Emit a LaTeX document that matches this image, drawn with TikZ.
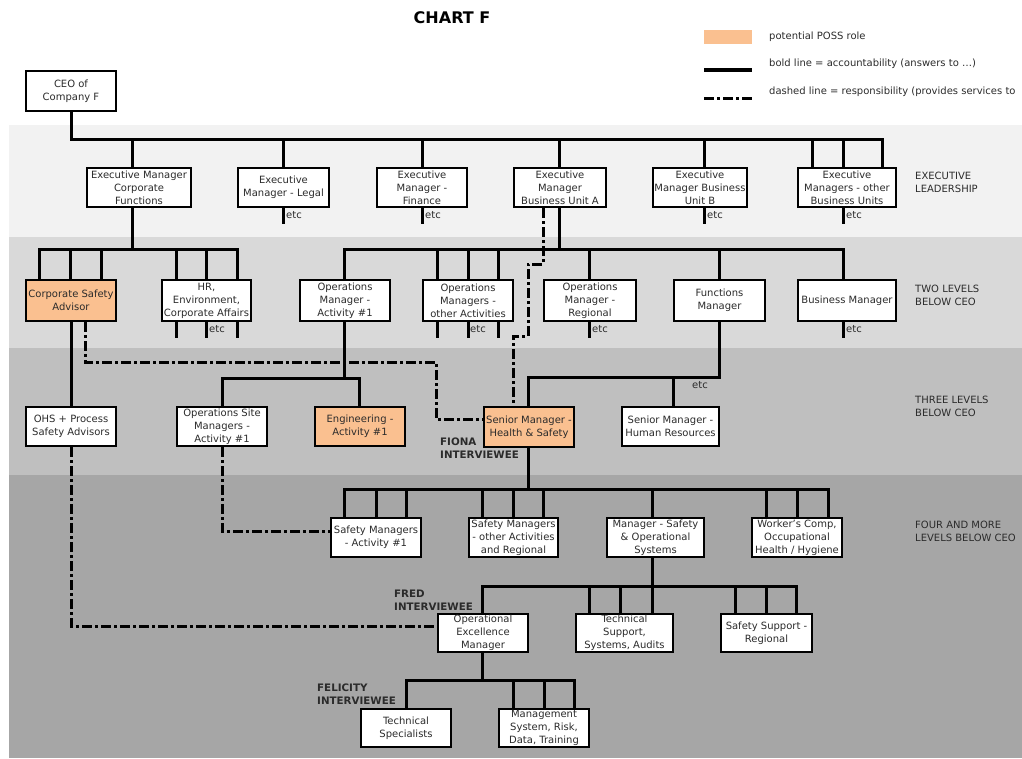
\documentclass[tikz,border=0pt]{standalone}
\usepackage{fontspec}
\setmainfont{DejaVu Sans}
\usetikzlibrary{calc}
\definecolor{possc}{HTML}{FAC090}
\definecolor{txt}{HTML}{2B2B2B}
\definecolor{bandA}{HTML}{F2F2F2}
\definecolor{bandB}{HTML}{D9D9D9}
\definecolor{bandC}{HTML}{BFBFBF}
\definecolor{bandD}{HTML}{A6A6A6}
\newcommand\bxfont{\fontsize{10}{13}\selectfont}
\newcommand\ttlfont{\fontsize{16}{19}\selectfont\bfseries}
\newcommand\ivfont{\fontsize{10.3}{13}\selectfont\bfseries}
\newcommand\drop[3]{\draw[acc] ($(#1.north)+(#2,0)$) -- ($(#1.north |- #3)+(#2,0)$);}
\newcommand\upto[3]{\draw[acc] ($(#1.south)+(#2,0)$) -- ($(#1.south |- #3)+(#2,0)$);}
\newcommand\stub[2]{\draw[acc] ($(#1.south)+(#2,0)$) -- ++(0,14);}
\begin{document}
\begin{tikzpicture}[x=1pt,y=-1pt,
  box/.style={draw=black, line width=2.6pt, fill=white, align=center, inner sep=0pt, font=\bxfont, text=txt},
  poss/.style={box, fill=possc},
  acc/.style={line width=3pt, line cap=rect, draw=black},
  resp/.style={line width=3pt, draw=black, dash pattern=on 10pt off 3pt on 3pt off 3pt},
  lbl/.style={anchor=west, align=left, inner sep=0pt, font=\bxfont, text=txt},
  etcs/.style={anchor=west, inner sep=0pt, font=\bxfont, text=txt},
  iv/.style={anchor=west, align=left, inner sep=0pt, font=\ivfont, text=txt}]
\useasboundingbox (0,0) rectangle (1022,758);
% bands
\fill[bandA] (9,125) rectangle (1022,237);
\fill[bandB] (9,237) rectangle (1022,348);
\fill[bandC] (9,348) rectangle (1022,475);
\fill[bandD] (9,475) rectangle (1022,758);
% title
\node[font=\ttlfont, text=black, inner sep=0pt] (title) at (452,18) {CHART F};
% legend
\node[fill=possc, minimum width=48, minimum height=14, inner sep=0pt] (legposs) at (728,37) {};
\coordinate (lb1) at (704,70); \coordinate (lb2) at (752,70);
\draw[line width=4.5pt] (lb1) -- (lb2);
\coordinate (ld1) at (704,98); \coordinate (ld2) at (752,98);
\draw[resp] (ld1) -- (ld2);
\node[etcs] (legt1) at (769,37) {potential POSS role};
\node[etcs] (legt2) at (769,63.5) {bold line = accountability (answers to \dots)};
\node[etcs] (legt3) at (769,92) {dashed line = responsibility (provides services to};
% band labels
\node[lbl] (lab1) at (915,182) {EXECUTIVE\\LEADERSHIP};
\node[lbl] (lab2) at (915,295) {TWO LEVELS\\BELOW CEO};
\node[lbl] (lab3) at (915,406) {THREE LEVELS\\BELOW CEO};
\node[lbl] (lab4) at (915,531) {FOUR AND MORE\\LEVELS BELOW CEO};
% boxes
\node[box, minimum width=90, minimum height=40] (ceo) at (71,91) {CEO of\\Company F};
\node[box, minimum width=104, minimum height=39] (emcf) at (139,187.5) {Executive Manager\\Corporate\\Functions};
\node[box, minimum width=91, minimum height=39] (eml) at (283.5,187.5) {Executive\\Manager - Legal};
\node[box, minimum width=90, minimum height=39] (emf) at (422,187.5) {Executive\\Manager -\\Finance};
\node[box, minimum width=92, minimum height=39] (emba) at (560,187.5) {Executive\\Manager\\Business Unit A};
\node[box, minimum width=94, minimum height=39] (embb) at (700,187.5) {Executive\\Manager Business\\Unit B};
\node[box, minimum width=98, minimum height=39] (emo) at (847,187.5) {Executive\\Managers - other\\Business Units};
\node[poss, minimum width=90, minimum height=41] (csa) at (71,300.5) {Corporate Safety\\Advisor};
\node[box, minimum width=89, minimum height=41] (hr) at (206.5,300.5) {HR,\\Environment,\\Corporate Affairs};
\node[box, minimum width=90, minimum height=41] (om1) at (345,300.5) {Operations\\Manager -\\Activity \#1};
\node[box, minimum width=90, minimum height=41] (omo) at (468,300.5) {Operations\\Managers -\\other Activities};
\node[box, minimum width=92, minimum height=41] (omr) at (590,300.5) {Operations\\Manager -\\Regional};
\node[box, minimum width=91, minimum height=41] (fm) at (719.5,300.5) {Functions\\Manager};
\node[box, minimum width=98, minimum height=41] (bm) at (847,300.5) {Business Manager};
\node[box, minimum width=90, minimum height=39] (ohs) at (71,426.5) {OHS + Process\\Safety Advisors};
\node[box, minimum width=90, minimum height=39] (osm) at (222,426.5) {Operations Site\\Managers -\\Activity \#1};
\node[poss, minimum width=90, minimum height=39] (eng) at (360,426.5) {Engineering -\\Activity \#1};
\node[poss, minimum width=90, minimum height=40] (smhs) at (529,427) {Senior Manager -\\Health \& Safety};
\node[box, minimum width=97, minimum height=39] (smhr) at (670.5,426.5) {Senior Manager -\\Human Resources};
\node[box, minimum width=90, minimum height=39] (sma) at (376,537.5) {Safety Managers\\- Activity \#1};
\node[box, minimum width=89, minimum height=39] (smo) at (513.5,537.5) {Safety Managers\\- other Activities\\and Regional};
\node[box, minimum width=97, minimum height=39] (msos) at (655.5,537.5) {Manager - Safety\\\& Operational\\Systems};
\node[box, minimum width=90, minimum height=39] (wc) at (797,537.5) {Worker's Comp,\\Occupational\\Health / Hygiene};
\node[box, minimum width=90, minimum height=38] (oem) at (483,633) {Operational\\Excellence\\Manager};
\node[box, minimum width=97, minimum height=38] (tss) at (624.5,633) {Technical\\Support,\\Systems, Audits};
\node[box, minimum width=91, minimum height=38] (ssr) at (766.5,633) {Safety Support -\\Regional};
\node[box, minimum width=90, minimum height=38] (ts) at (406,728) {Technical\\Specialists};
\node[box, minimum width=90, minimum height=38] (msr) at (544,728) {Management\\System, Risk,\\Data, Training};
% interviewee labels
\node[iv] (fiona) at (440,448.5) {FIONA\\INTERVIEWEE};
\node[iv] (fred) at (394,600.5) {FRED\\INTERVIEWEE};
\node[iv] (felicity) at (317,694.5) {FELICITY\\INTERVIEWEE};
% bus coordinates
\coordinate (b1r) at (882,139);
\coordinate (b2al) at (39,249); \coordinate (b2ar) at (237,249);
\coordinate (b2bl) at (344,249); \coordinate (b2br) at (843,249);
\coordinate (b3al) at (222,378); \coordinate (b3ar) at (359,378);
\coordinate (b3bl) at (528,377); \coordinate (b3br) at (719,377);
\coordinate (b4l) at (344,489); \coordinate (b4r) at (828,489);
\coordinate (b5l) at (482,586); \coordinate (b5r) at (796,586);
\coordinate (b6l) at (406,680); \coordinate (b6r) at (574,680);
% dashed responsibility lines
\draw[resp] ($(emba.south)+(-17,0)$) -- ++(0,56) -- ++(-15,0) -- ++(0,72) -- ++(-15,0) -- ($(smhs.north)+(-16,0)$);
\draw[resp] ($(csa.south)+(14,0)$) -- ++(0,40) -- ++(351,0) |- ($(smhs.west)+(0,-8)$);
\draw[resp] (osm.south) |- ($(sma.west)+(0,-6.5)$);
\draw[resp] (ohs.south) |- ($(oem.west)+(0,-7)$);
% level 1
\draw[acc] (ceo.south) |- (b1r);
\drop{emcf}{-7}{b1r}
\drop{eml}{0}{b1r}
\drop{emf}{0}{b1r}
\drop{emba}{-1}{b1r}
\drop{embb}{4}{b1r}
\drop{emo}{-35}{b1r}
\drop{emo}{-4}{b1r}
\drop{emo}{35}{b1r}
\stub{eml}{0} \stub{emf}{0} \stub{embb}{4} \stub{emo}{-4}
\node[etcs] (etc1) at (286,215) {etc};
\node[etcs] (etc2) at (425,215) {etc};
\node[etcs] (etc3) at (707,215) {etc};
\node[etcs] (etc4) at (846,215) {etc};
% level 2
\upto{emcf}{-7}{b2al}
\draw[acc] (b2al) -- (b2ar);
\drop{csa}{-32}{b2al} \drop{csa}{-1}{b2al} \drop{csa}{30}{b2al}
\drop{hr}{-30.5}{b2al} \drop{hr}{0}{b2al} \drop{hr}{30.5}{b2al}
\upto{emba}{-1}{b2bl}
\draw[acc] (b2bl) -- (b2br);
\drop{om1}{-1}{b2bl}
\drop{omo}{-31}{b2bl} \drop{omo}{0}{b2bl} \drop{omo}{30}{b2bl}
\drop{omr}{-1}{b2bl}
\drop{fm}{-0.5}{b2bl}
\drop{bm}{-4}{b2bl}
\stub{hr}{-30.5} \stub{hr}{0} \stub{hr}{30.5}
\stub{omo}{-31} \stub{omo}{0} \stub{omo}{30}
\stub{omr}{-1} \stub{bm}{-4}
\node[etcs] (etc5) at (209,329) {etc};
\node[etcs] (etc6) at (470,329) {etc};
\node[etcs] (etc7) at (592,329) {etc};
\node[etcs] (etc8) at (846,329) {etc};
% level 3
\draw[acc] (csa.south) -- (ohs.north);
\upto{om1}{-1}{b3al}
\draw[acc] (b3al) -- (b3ar);
\drop{osm}{0}{b3al} \drop{eng}{-1}{b3al}
\upto{fm}{-0.5}{b3bl}
\draw[acc] (b3bl) -- (b3br);
\drop{smhs}{-1}{b3bl} \drop{smhr}{2.5}{b3bl}
\node[etcs, anchor=center] (etc9) at (700,385) {etc};
% level 4
\upto{smhs}{-1}{b4l}
\draw[acc] (b4l) -- (b4r);
\drop{sma}{-32}{b4l} \drop{sma}{0}{b4l} \drop{sma}{30}{b4l}
\drop{smo}{-31.5}{b4l} \drop{smo}{0}{b4l} \drop{smo}{29.5}{b4l}
\drop{msos}{-3.5}{b4l}
\drop{wc}{-31}{b4l} \drop{wc}{0}{b4l} \drop{wc}{31}{b4l}
% level 5
\upto{msos}{-3.5}{b5l}
\draw[acc] (b5l) -- (b5r);
\drop{oem}{-1}{b5l}
\drop{tss}{-35.5}{b5l} \drop{tss}{-4.5}{b5l} \drop{tss}{27.5}{b5l}
\drop{ssr}{-31.5}{b5l} \drop{ssr}{0}{b5l} \drop{ssr}{29.5}{b5l}
% level 6
\upto{oem}{-1}{b6l}
\draw[acc] (b6l) -- (b6r);
\drop{ts}{0}{b6l}
\drop{msr}{-31}{b6l} \drop{msr}{0}{b6l} \drop{msr}{30}{b6l}
\end{tikzpicture}
\end{document}
